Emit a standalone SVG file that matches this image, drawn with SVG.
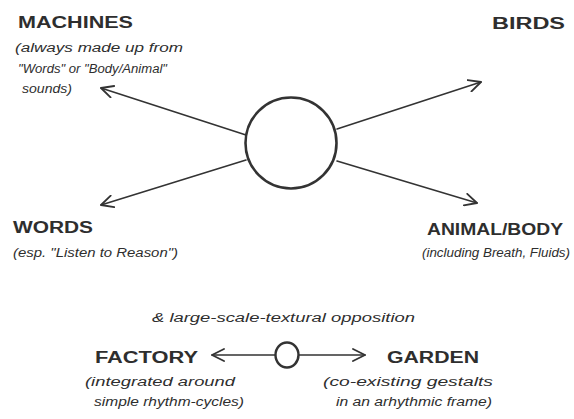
<svg xmlns="http://www.w3.org/2000/svg" width="574" height="419" viewBox="0 0 574 419">
<style>
.t{font-family:"Liberation Sans",Arial,sans-serif;font-weight:bold;font-size:16px;fill:#2e2e2e}
.n{font-family:"Liberation Sans",Arial,sans-serif;font-style:italic;font-size:12.5px;fill:#2e2e2e}
.ln{stroke:#333;stroke-width:1.6;fill:none;stroke-linecap:round}
.c{stroke:#333;fill:#fff}
</style>
<defs>
<marker id="ah" viewBox="0 0 14 14" refX="13" refY="7" markerWidth="14" markerHeight="14" markerUnits="userSpaceOnUse" orient="auto">
<path d="M1,1 L13,7 L1,13" fill="none" stroke="#333" stroke-width="1.8" stroke-linecap="round" stroke-linejoin="round"/>
</marker>
</defs>
<rect width="574" height="419" fill="#fff"/>
<g id="connectors">
<line class="ln" x1="246" y1="135" x2="101" y2="88" marker-end="url(#ah)"/>
<line class="ln" x1="337" y1="129" x2="481" y2="82" marker-end="url(#ah)"/>
<line class="ln" x1="246" y1="160" x2="101" y2="205" marker-end="url(#ah)"/>
<line class="ln" x1="337" y1="161" x2="477" y2="203" marker-end="url(#ah)"/>
<line class="ln" x1="275" y1="355" x2="212" y2="355" marker-end="url(#ah)"/>
<line class="ln" x1="298" y1="355" x2="365" y2="355" marker-end="url(#ah)"/>
</g>
<g id="hub"><circle class="c" cx="291" cy="143" r="45.5" stroke-width="2.6"/></g>
<g id="hub2"><ellipse class="c" cx="287" cy="355" rx="11.5" ry="12.5" stroke-width="2.4"/></g>
<g id="machines">
<text class="t" x="18" y="28" textLength="115" lengthAdjust="spacingAndGlyphs">MACHINES</text>
<text class="n" x="15" y="52" textLength="168" lengthAdjust="spacingAndGlyphs">(always made up from</text>
<text class="n" x="18" y="73" textLength="149" lengthAdjust="spacingAndGlyphs">"Words" or "Body/Animal"</text>
<text class="n" x="22" y="93" textLength="50" lengthAdjust="spacingAndGlyphs">sounds)</text>
</g>
<g id="birds">
<text class="t" x="492" y="29" textLength="73" lengthAdjust="spacingAndGlyphs">BIRDS</text>
</g>
<g id="words">
<text class="t" x="13" y="233" textLength="80" lengthAdjust="spacingAndGlyphs">WORDS</text>
<text class="n" x="13" y="257" textLength="165" lengthAdjust="spacingAndGlyphs">(esp. "Listen to Reason")</text>
</g>
<g id="animal-body">
<text class="t" x="427" y="235" textLength="136" lengthAdjust="spacingAndGlyphs">ANIMAL/BODY</text>
<text class="n" x="422" y="257" textLength="148" lengthAdjust="spacingAndGlyphs">(including Breath, Fluids)</text>
</g>
<g id="opposition">
<text class="n" x="152" y="322" textLength="263" lengthAdjust="spacingAndGlyphs">&amp; large-scale-textural opposition</text>
</g>
<g id="factory">
<text class="t" x="95" y="363" textLength="103" lengthAdjust="spacingAndGlyphs">FACTORY</text>
<text class="n" x="85" y="386" textLength="150" lengthAdjust="spacingAndGlyphs">(integrated around</text>
<text class="n" x="94" y="406" textLength="150" lengthAdjust="spacingAndGlyphs">simple rhythm-cycles)</text>
</g>
<g id="garden">
<text class="t" x="387" y="363" textLength="92" lengthAdjust="spacingAndGlyphs">GARDEN</text>
<text class="n" x="323" y="386" textLength="170" lengthAdjust="spacingAndGlyphs">(co-existing gestalts</text>
<text class="n" x="336" y="406" textLength="156" lengthAdjust="spacingAndGlyphs">in an arhythmic frame)</text>
</g>
</svg>
